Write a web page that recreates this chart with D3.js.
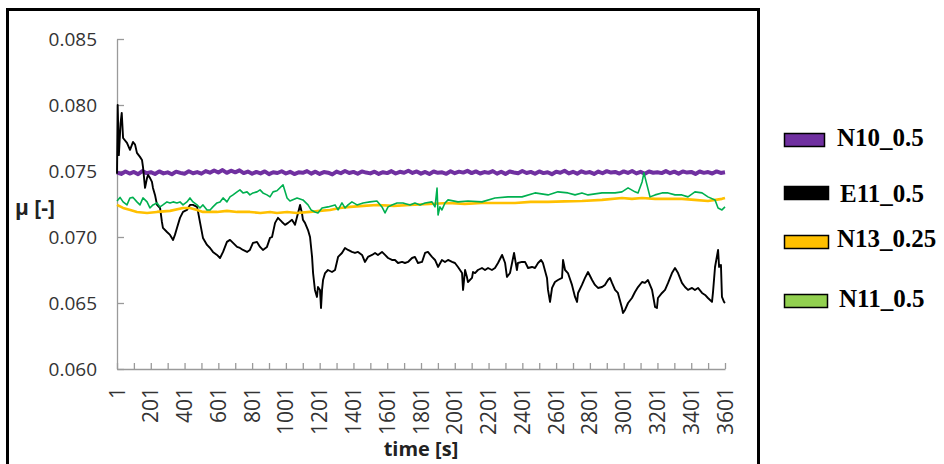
<!DOCTYPE html>
<html><head><meta charset="utf-8">
<script src="https://cdn.jsdelivr.net/npm/d3@7"></script>
<style>body{margin:0;background:#fff}svg{display:block}</style>
</head><body>
<svg id="c" width="944" height="464"></svg>
<script>
// ---------- DATA ----------
const seriesNames = ["N10_0.5", "E11_0.5", "N13_0.25", "N11_0.5"];
const lineColors = ["#7030A0", "#000000", "#FFC000", "#00B050"];
const legendColors = ["#7030A0", "#000000", "#FFC000", "#92D050"];
const yTicks = [0.060, 0.065, 0.070, 0.075, 0.080, 0.085];
const xLabels = [1, 201, 401, 601, 801, 1001, 1201, 1401, 1601, 1801, 2001, 2201, 2401, 2601, 2801, 3001, 3201, 3401, 3601];

// N10_0.5 sampled every 25 s from t=1 to t=3601
const n10Values = [
0.07488,0.07478,0.07496,0.07481,0.07493,0.07476,0.07499,0.07484,0.07491,0.07477,
0.07497,0.07482,0.07490,0.07475,0.07495,0.07486,0.07479,0.07498,0.07483,0.07492,
0.07480,0.07499,0.07487,0.07504,0.07489,0.07507,0.07486,0.07502,0.07490,0.07505,
0.07484,0.07496,0.07479,0.07493,0.07482,0.07497,0.07476,0.07491,0.07485,0.07498,
0.07481,0.07494,0.07477,0.07490,0.07486,0.07499,0.07480,0.07495,0.07478,0.07492,
0.07487,0.07474,0.07496,0.07483,0.07500,0.07485,0.07493,0.07479,0.07497,0.07488,
0.07482,0.07495,0.07478,0.07491,0.07484,0.07499,0.07481,0.07494,0.07487,0.07502,
0.07485,0.07497,0.07480,0.07493,0.07477,0.07496,0.07486,0.07490,0.07479,0.07498,
0.07483,0.07495,0.07488,0.07501,0.07484,0.07497,0.07481,0.07492,0.07486,0.07499,
0.07480,0.07494,0.07478,0.07496,0.07489,0.07483,0.07500,0.07485,0.07493,0.07479,
0.07497,0.07484,0.07491,0.07476,0.07495,0.07487,0.07502,0.07482,0.07494,0.07480,
0.07498,0.07486,0.07492,0.07478,0.07496,0.07483,0.07499,0.07488,0.07493,0.07481,
0.07497,0.07485,0.07500,0.07482,0.07494,0.07479,0.07496,0.07487,0.07491,0.07484,
0.07499,0.07483,0.07495,0.07480,0.07497,0.07488,0.07493,0.07478,0.07496,0.07486,
0.07492,0.07481,0.07497,0.07485,0.07490];
const n10Time = d3.range(1, 3602, 25);

const e11Time = [
1,5,12,22,29,37,60,78,96,108,119,137,
149,155,167,179,185,196,208,214,226,238,
256,267,273,297,315,333,344,356,374,392,
415,433,451,475,481,492,510,534,552,569,
593,611,629,652,670,688,712,729,747,771,
788,806,830,848,865,889,907,919,937,954,
978,996,1014,1037,1055,1073,1085,1096,1102,1114,
1132,1144,1156,1162,1173,1185,1191,1203,1209,1215,
1221,1233,1250,1274,1292,1310,1333,1351,1369,1392,
1410,1428,1452,1469,1487,1511,1529,1546,1570,1588,
1606,1629,1647,1665,1689,1706,1724,1748,1765,1783,
1807,1825,1842,1866,1884,1902,1925,1943,1961,1985,
2002,2020,2044,2050,2062,2073,2079,2103,2109,2121,
2138,2162,2180,2198,2221,2239,2257,2281,2299,2310,
2328,2340,2352,2369,2375,2399,2417,2435,2458,2476,
2494,2512,2523,2547,2553,2565,2577,2594,2612,2636,
2642,2654,2671,2695,2713,2725,2731,2754,2772,2790,
2814,2831,2849,2873,2890,2908,2920,2932,2950,2967,
2991,2997,3009,3027,3050,3068,3086,3110,3127,3145,
3169,3187,3198,3204,3228,3246,3264,3287,3305,3323,
3346,3364,3382,3406,3423,3441,3465,3483,3500,3524,
3530,3542,3560,3566,3577,3583,3595,3601];
const e11Values = [
0.07480,0.08000,0.07620,0.07860,0.07940,0.07750,0.07713,0.07660,0.07720,0.07700,0.07637,0.07607,
0.07584,0.07530,0.07372,0.07448,0.07470,0.07448,0.07418,0.07372,0.07319,0.07243,
0.07220,0.07114,0.07069,0.07038,0.07016,0.06978,0.07016,0.07069,0.07145,0.07190,
0.07205,0.07243,0.07243,0.07228,0.07190,0.07114,0.06993,0.06940,0.06917,0.06887,
0.06864,0.06841,0.06887,0.06963,0.06978,0.06955,0.06925,0.06917,0.06902,0.06887,
0.06902,0.06955,0.06963,0.06925,0.06902,0.06925,0.06993,0.07000,0.07107,0.07145,
0.07114,0.07092,0.07107,0.07130,0.07092,0.07182,0.07243,0.07182,0.07130,0.07107,
0.07053,0.07000,0.06849,0.06727,0.06599,0.06546,0.06621,0.06599,0.06462,0.06599,
0.06674,0.06727,0.06750,0.06735,0.06750,0.06849,0.06879,0.06917,0.06902,0.06887,
0.06879,0.06887,0.06864,0.06811,0.06849,0.06864,0.06879,0.06864,0.06887,0.06864,
0.06841,0.06826,0.06826,0.06803,0.06811,0.06803,0.06811,0.06841,0.06849,0.06803,
0.06811,0.06879,0.06887,0.06849,0.06826,0.06773,0.06826,0.06811,0.06826,0.06811,
0.06803,0.06773,0.06727,0.06599,0.06750,0.06697,0.06659,0.06690,0.06735,0.06727,
0.06750,0.06765,0.06750,0.06765,0.06750,0.06765,0.06803,0.06864,0.06803,0.06697,
0.06727,0.06803,0.06879,0.06750,0.06803,0.06811,0.06811,0.06765,0.06773,0.06765,
0.06803,0.06826,0.06803,0.06690,0.06599,0.06508,0.06614,0.06659,0.06674,0.06690,
0.06826,0.06750,0.06727,0.06637,0.06546,0.06508,0.06576,0.06637,0.06690,0.06735,
0.06674,0.06637,0.06614,0.06621,0.06637,0.06674,0.06690,0.06652,0.06599,0.06576,
0.06462,0.06424,0.06447,0.06500,0.06538,0.06583,0.06621,0.06659,0.06652,0.06674,
0.06599,0.06470,0.06462,0.06538,0.06576,0.06599,0.06652,0.06727,0.06765,0.06727,
0.06652,0.06621,0.06599,0.06614,0.06599,0.06614,0.06576,0.06561,0.06538,0.06508,
0.06583,0.06773,0.06902,0.06773,0.06788,0.06546,0.06508,0.06500];

const n13Time = [
1,37,80,119,179,238,315,392,433,475,
510,593,652,712,788,850,907,948,1008,1067,
1144,1200,1262,1320,1381,1460,1540,1640,1736,1850,
1961,2060,2162,2260,2358,2450,2553,2650,2754,2873,
2991,3050,3110,3187,3260,3346,3420,3500,3583,3601];
const n13Values = [
0.07243,0.07220,0.07205,0.07190,0.07182,0.07190,0.07198,0.07220,0.07220,0.07205,
0.07190,0.07190,0.07198,0.07190,0.07190,0.07182,0.07190,0.07182,0.07190,0.07182,
0.07190,0.07198,0.07205,0.07220,0.07228,0.07236,0.07243,0.07236,0.07243,0.07250,
0.07258,0.07251,0.07258,0.07258,0.07258,0.07266,0.07266,0.07270,0.07273,0.07281,
0.07296,0.07289,0.07296,0.07289,0.07289,0.07289,0.07281,0.07273,0.07289,0.07296];

const n11Time = [
1,19,37,60,78,96,119,137,155,179,
196,214,238,256,273,297,315,333,356,374,
392,415,433,451,475,492,510,534,552,569,
593,611,629,652,670,688,712,729,747,771,
788,806,830,848,865,889,907,925,948,984,
1008,1025,1067,1102,1132,1150,1173,1191,1215,1250,
1292,1310,1333,1351,1369,1392,1422,1458,1499,1540,
1570,1588,1606,1629,1659,1694,1736,1765,1795,1825,
1866,1884,1896,1902,1913,1925,1943,1961,2020,2079,
2162,2239,2316,2399,2476,2553,2612,2671,2713,2754,
2790,2873,2950,2991,3027,3068,3086,3110,3121,3139,
3157,3187,3228,3264,3305,3346,3382,3423,3465,3500,
3542,3560,3583,3601];
const n11Values = [
0.07273,0.07300,0.07266,0.07243,0.07296,0.07300,0.07266,0.07243,0.07296,0.07266,
0.07220,0.07243,0.07258,0.07228,0.07243,0.07266,0.07258,0.07266,0.07258,0.07266,
0.07243,0.07266,0.07296,0.07266,0.07243,0.07220,0.07243,0.07205,0.07205,0.07228,
0.07258,0.07266,0.07296,0.07266,0.07304,0.07319,0.07342,0.07357,0.07334,0.07342,
0.07319,0.07334,0.07342,0.07357,0.07334,0.07319,0.07304,0.07342,0.07350,0.07395,
0.07296,0.07273,0.07296,0.07281,0.07243,0.07205,0.07190,0.07182,0.07220,0.07228,
0.07243,0.07205,0.07258,0.07220,0.07243,0.07266,0.07243,0.07258,0.07266,0.07273,
0.07228,0.07182,0.07228,0.07243,0.07258,0.07258,0.07243,0.07258,0.07243,0.07258,
0.07266,0.07228,0.07370,0.07167,0.07228,0.07205,0.07258,0.07281,0.07266,0.07273,
0.07266,0.07296,0.07304,0.07304,0.07334,0.07319,0.07342,0.07334,0.07319,0.07334,
0.07319,0.07334,0.07334,0.07342,0.07372,0.07342,0.07334,0.07417,0.07486,0.07395,
0.07304,0.07319,0.07334,0.07334,0.07319,0.07319,0.07304,0.07342,0.07334,0.07304,
0.07281,0.07220,0.07205,0.07228];

// ---------- CHART ----------
const svg = d3.select("#c");
const x = d3.scaleLinear().domain([1, 3601]).range([117, 725]);
const y = d3.scaleLinear().domain([0.060, 0.085]).range([369, 39]);
const axisColor = "#9a9a9a";
const tickFont = "'Open Sans', 'Noto Sans', sans-serif";

// outer frame
svg.append("rect").attr("x", 7.5).attr("y", 9.5).attr("width", 751).attr("height", 470)
  .attr("fill", "none").attr("stroke", "#000").attr("stroke-width", 3);

// y axis
const yAxis = svg.append("g").attr("transform", "translate(117,0)")
  .call(d3.axisLeft(y).tickValues(yTicks).tickFormat(d3.format(".3f"))
    .tickSize(-7).tickSizeOuter(0).tickPadding(20));
yAxis.select(".domain").attr("stroke", axisColor).attr("stroke-width", 1.3);
yAxis.selectAll(".tick line").attr("stroke", axisColor).attr("stroke-width", 1.3);
yAxis.selectAll("text").attr("font-family", tickFont).attr("font-size", 19)
  .attr("fill", "#333").attr("dy", "0.36em");

// x axis (ticks every 100 s)
const xAxis = svg.append("g").attr("transform", "translate(0,369)")
  .call(d3.axisBottom(x).tickValues(d3.range(1, 3602, 100)).tickFormat("")
    .tickSize(-6).tickSizeOuter(0));
xAxis.select(".domain").attr("stroke", axisColor).attr("stroke-width", 1.3);
xAxis.selectAll(".tick line").attr("stroke", axisColor).attr("stroke-width", 1.3);

// x tick labels, rotated
svg.append("g").selectAll("text").data(xLabels).join("text")
  .attr("transform", d => `translate(${x(d)},387) rotate(-90)`)
  .attr("text-anchor", "end").attr("dy", "0.36em")
  .attr("font-family", tickFont).attr("font-size", 21).attr("fill", "#333")
  .text(d => d);

// axis titles
svg.append("text").attr("x", 15).attr("y", 215).attr("font-family", tickFont)
  .attr("font-weight", "bold").attr("font-size", 21).attr("fill", "#222").text("μ [-]");
svg.append("text").attr("x", 421).attr("y", 456).attr("text-anchor", "middle")
  .attr("font-family", tickFont).attr("font-weight", "bold").attr("font-size", 20)
  .attr("fill", "#222").text("time [s]");

// lines
const line = d3.line().x(d => x(d[0])).y(d => y(d[1]));
const series = [
  {t: n10Time, v: n10Values, w: 4},
  {t: e11Time, v: e11Values, w: 1.9},
  {t: n13Time, v: n13Values, w: 2.6},
  {t: n11Time, v: n11Values, w: 1.6}
];
const plot = svg.append("g");
series.forEach((s, i) => {
  plot.append("path").datum(d3.zip(s.t, s.v))
    .attr("fill", "none").attr("stroke", lineColors[i]).attr("stroke-width", s.w)
    .attr("stroke-linejoin", "round").attr("d", line);
});

// legend (outside frame, right)
const legendLayout = [
  {ry: 133, rw: 40, tx: 837, ty: 146},
  {ry: 186, rw: 44, tx: 840, ty: 202},
  {ry: 235, rw: 44, tx: 837, ty: 247},
  {ry: 294, rw: 43, tx: 839, ty: 307}
];
const leg = svg.append("g");
seriesNames.forEach((name, i) => {
  const L = legendLayout[i];
  leg.append("rect").attr("x", 784.5).attr("y", L.ry + 0.5).attr("width", L.rw).attr("height", 13)
    .attr("fill", legendColors[i]).attr("stroke", "#000").attr("stroke-width", 1.5);
  leg.append("text").attr("x", L.tx).attr("y", L.ty)
    .attr("font-family", "'Liberation Serif', 'Times New Roman', serif")
    .attr("font-weight", "bold").attr("font-size", 25).attr("fill", "#000").text(name);
});
</script>
</body></html>
